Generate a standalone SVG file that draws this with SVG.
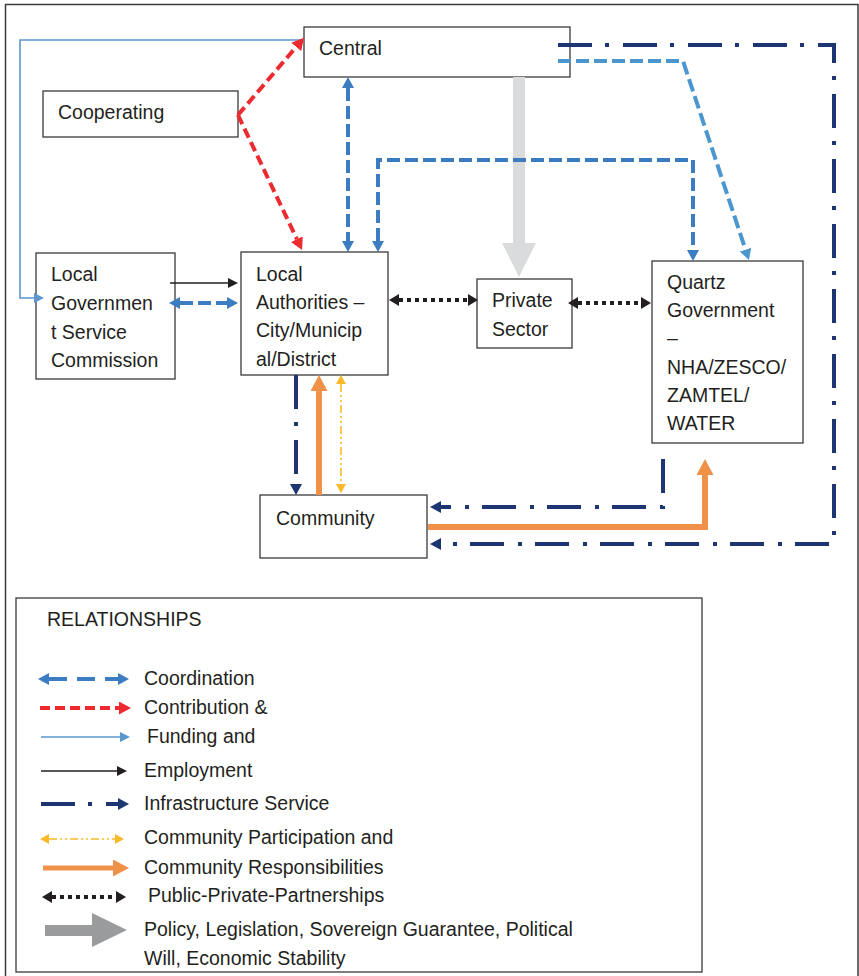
<svg xmlns="http://www.w3.org/2000/svg" width="859" height="976" viewBox="0 0 859 976">
  <style>
    .box { fill: #ffffff; stroke: #3a3a3a; stroke-width: 1.3; }
    .lbl { font-family: "Liberation Sans", Arial, sans-serif; font-size: 19.5px; fill: #231f20; }
    .coord { fill: none; stroke: #3c7cc0; stroke-width: 4; stroke-dasharray: 13 5; }
    .coord2 { fill: none; stroke: #4b96cf; stroke-width: 4; stroke-dasharray: 13 5; }
    .contrib { fill: none; stroke: #ec2a2f; stroke-width: 4; stroke-dasharray: 10 5; }
    .fund { fill: none; stroke: #5b96cf; stroke-width: 1.6; }
    .employ { fill: none; stroke: #231f20; stroke-width: 1.6; }
    .infra { fill: none; stroke: #1d3573; stroke-width: 4; stroke-dasharray: 34 13 4 14; }
    .part { fill: none; stroke: #f9b928; stroke-width: 1.6; stroke-dasharray: 8 3 2 3 2 3; }
    .resp { fill: none; stroke: #f0914a; stroke-width: 6; }
    .ppp { fill: none; stroke: #231f20; stroke-width: 4; stroke-dasharray: 4 4; }
  </style>
  <defs>
    <marker id="m-coord" viewBox="0 0 11 12" refX="0" refY="6" markerWidth="11" markerHeight="12" markerUnits="userSpaceOnUse" orient="auto-start-reverse"><path d="M0,0 L11,6 L0,12z" fill="#3c7cc0"/></marker>
    <marker id="m-coord2" viewBox="0 0 11 12" refX="0" refY="6" markerWidth="11" markerHeight="12" markerUnits="userSpaceOnUse" orient="auto-start-reverse"><path d="M0,0 L11,6 L0,12z" fill="#4b96cf"/></marker>
    <marker id="m-contrib" viewBox="0 0 12 13" refX="0" refY="6.5" markerWidth="12" markerHeight="13" markerUnits="userSpaceOnUse" orient="auto-start-reverse"><path d="M0,0 L12,6.5 L0,13z" fill="#ec2a2f"/></marker>
    <marker id="m-fund" viewBox="0 0 10 10" refX="0" refY="5" markerWidth="10" markerHeight="10" markerUnits="userSpaceOnUse" orient="auto-start-reverse"><path d="M0,0 L10,5 L0,10z" fill="#5b96cf"/></marker>
    <marker id="m-employ" viewBox="0 0 10 10" refX="0" refY="5" markerWidth="10" markerHeight="10" markerUnits="userSpaceOnUse" orient="auto-start-reverse"><path d="M0,0 L10,5 L0,10z" fill="#231f20"/></marker>
    <marker id="m-infra" viewBox="0 0 11 12" refX="0" refY="6" markerWidth="11" markerHeight="12" markerUnits="userSpaceOnUse" orient="auto-start-reverse"><path d="M0,0 L11,6 L0,12z" fill="#1d3573"/></marker>
    <marker id="m-part" viewBox="0 0 9 10" refX="0" refY="5" markerWidth="9" markerHeight="10" markerUnits="userSpaceOnUse" orient="auto-start-reverse"><path d="M0,0 L9,5 L0,10z" fill="#f9b928"/></marker>
    <marker id="m-resp" viewBox="0 0 16 17" refX="0" refY="8.5" markerWidth="16" markerHeight="17" markerUnits="userSpaceOnUse" orient="auto-start-reverse"><path d="M0,0 L16,8.5 L0,17z" fill="#f0914a"/></marker>
    <marker id="m-ppp" viewBox="0 0 10 12" refX="0" refY="6" markerWidth="10" markerHeight="12" markerUnits="userSpaceOnUse" orient="auto-start-reverse"><path d="M0,0 L10,6 L0,12z" fill="#231f20"/></marker>
  </defs>

  <rect width="859" height="976" fill="#ffffff"/>
  <!-- outer frame -->
  <rect x="5.5" y="4.5" width="852.5" height="990" fill="none" stroke="#3a3a3a" stroke-width="1.5"/>

  <!-- nodes -->
  <g id="central">
    <rect class="box" x="304" y="27" width="266" height="50"/>
    <text class="lbl" x="319" y="55">Central</text>
  </g>
  <g id="cooperating">
    <rect class="box" x="43" y="91" width="195" height="46"/>
    <text class="lbl" x="58" y="119">Cooperating</text>
  </g>
  <g id="lgsc">
    <rect class="box" x="36" y="253" width="139" height="126"/>
    <text class="lbl" x="51" y="281">Local</text>
    <text class="lbl" x="51" y="310">Governmen</text>
    <text class="lbl" x="51" y="339">t Service</text>
    <text class="lbl" x="51" y="367">Commission</text>
  </g>
  <g id="local-authorities">
    <rect class="box" x="241" y="252" width="147" height="123"/>
    <text class="lbl" x="256" y="281">Local</text>
    <text class="lbl" x="256" y="309">Authorities –</text>
    <text class="lbl" x="256" y="337">City/Municip</text>
    <text class="lbl" x="256" y="366">al/District</text>
  </g>
  <g id="private-sector">
    <rect class="box" x="477" y="279" width="95" height="69"/>
    <text class="lbl" x="492" y="307">Private</text>
    <text class="lbl" x="492" y="336">Sector</text>
  </g>
  <g id="quartz">
    <rect class="box" x="652" y="261" width="151" height="182"/>
    <text class="lbl" x="667" y="289">Quartz</text>
    <text class="lbl" x="667" y="317">Government</text>
    <text class="lbl" x="667" y="345">–</text>
    <text class="lbl" x="667" y="374">NHA/ZESCO/</text>
    <text class="lbl" x="667" y="402">ZAMTEL/</text>
    <text class="lbl" x="667" y="430">WATER</text>
  </g>
  <g id="community">
    <rect class="box" x="260" y="495" width="167" height="63"/>
    <text class="lbl" x="276" y="525">Community</text>
  </g>

  <!-- connectors -->
  <g id="connectors">
    <!-- policy arrow Central to Private Sector -->
    <polygon points="513,77 525,77 525,243 536,243 519,277 502,243 513,243" fill="#dadbdd"/>
    <!-- funding -->
    <path class="fund" d="M304,40 H20 V298 H34" marker-end="url(#m-fund)"/>
    <!-- contributions from Cooperating -->
    <path class="contrib" d="M238,115 L296.2,46.9" marker-end="url(#m-contrib)"/>
    <path class="contrib" d="M238,115 L296.9,239.2" marker-end="url(#m-contrib)"/>
    <!-- coordination -->
    <path class="coord" d="M348,88 V241" marker-start="url(#m-coord)" marker-end="url(#m-coord)"/>
    <path class="coord" d="M378,241 V160 H693 V250" marker-start="url(#m-coord)" marker-end="url(#m-coord)"/>
    <path class="coord2" d="M558,61 H683 L745.5,249.6" marker-end="url(#m-coord2)"/>
    <path class="coord" d="M180,303 H227" marker-start="url(#m-coord)" marker-end="url(#m-coord)"/>
    <!-- employment -->
    <path class="employ" d="M170,283 H228" marker-end="url(#m-employ)"/>
    <!-- public-private partnerships -->
    <path class="ppp" d="M399,300 H468" marker-start="url(#m-ppp)" marker-end="url(#m-ppp)"/>
    <path class="ppp" d="M578,303 H641" marker-start="url(#m-ppp)" marker-end="url(#m-ppp)"/>
    <!-- infrastructure services -->
    <path class="infra" d="M558,45 H834 V544 H441" marker-end="url(#m-infra)"/>
    <path class="infra" d="M296,375 V484" marker-end="url(#m-infra)"/>
    <path class="infra" d="M663,459 V507 H441" marker-end="url(#m-infra)"/>
    <!-- community responsibilities -->
    <path class="resp" d="M319,495 V391" marker-end="url(#m-resp)"/>
    <path class="resp" d="M428,527 H705 V475" marker-end="url(#m-resp)"/>
    <!-- community participation -->
    <path class="part" d="M341,384 V484" marker-start="url(#m-part)" marker-end="url(#m-part)"/>
  </g>

  <!-- legend -->
  <g id="legend">
    <rect class="box" x="16" y="598" width="686" height="374" stroke="#444"/>
    <text class="lbl" x="47" y="626">RELATIONSHIPS</text>

    <path class="coord" style="stroke-dasharray:18 10" d="M49,679 H118" marker-start="url(#m-coord)" marker-end="url(#m-coord)"/>
    <text class="lbl" x="144" y="685">Coordination</text>

    <path class="contrib" d="M40,708 H119" marker-end="url(#m-contrib)"/>
    <text class="lbl" x="144" y="714">Contribution &amp;</text>

    <path class="fund" d="M41,737 H120" marker-end="url(#m-fund)"/>
    <text class="lbl" x="147" y="743">Funding and</text>

    <path class="employ" d="M41,771 H117" marker-end="url(#m-employ)"/>
    <text class="lbl" x="144" y="777">Employment</text>

    <path class="infra" d="M41,804 H118" marker-end="url(#m-infra)"/>
    <text class="lbl" x="144" y="810">Infrastructure Service</text>

    <path class="part" d="M49,839 H115" marker-start="url(#m-part)" marker-end="url(#m-part)"/>
    <text class="lbl" x="144" y="844">Community Participation and</text>

    <path class="resp" style="stroke-width:5" d="M43,868 H113" marker-end="url(#m-resp)"/>
    <text class="lbl" x="144" y="874">Community Responsibilities</text>

    <path class="ppp" d="M52,897 H116" marker-start="url(#m-ppp)" marker-end="url(#m-ppp)"/>
    <text class="lbl" x="148" y="902">Public-Private-Partnerships</text>

    <polygon points="45,925 92,925 92,913 127,930 92,947 92,936 45,936" fill="#9a9b9d"/>
    <text class="lbl" x="144" y="936">Policy, Legislation, Sovereign Guarantee, Political</text>
    <text class="lbl" x="144" y="965">Will, Economic Stability</text>
  </g>
</svg>
